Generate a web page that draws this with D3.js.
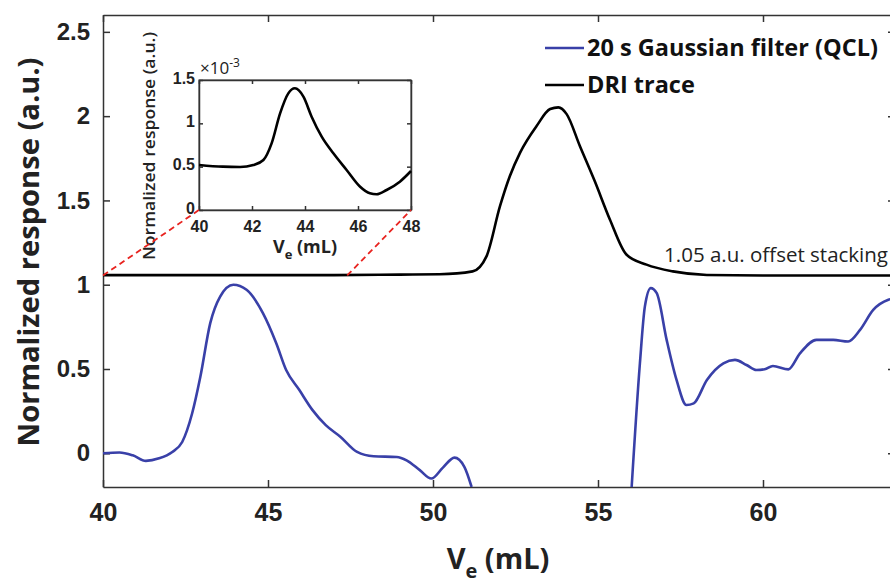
<!DOCTYPE html>
<html lang="en">
<head>
  <meta charset="UTF-8">
  <title>QCL vs DRI trace</title>
  <script src="https://d3js.org/d3.v7.min.js"></script>
  <style>
    body { margin: 0; background: #fff; }
    svg { display: block; font-family: 'Open Sans', 'DejaVu Sans', sans-serif; }
    .axis path, .axis line { stroke: #333; stroke-width: 1.5; }
    .axis text { fill: #222; font-weight: bold; }
    .trace { fill: none; stroke-width: 2.6; stroke-linejoin: round; }
  </style>
</head>
<body>
<svg id="chart" width="890" height="584"></svg>
<script>
  // main plot: blue QCL trace (Ve in mL, normalized response)
  var qclVe = [40, 40.5, 40.9, 41.3, 41.7, 42.1, 42.4, 42.7, 42.95, 43.25, 43.55, 43.95, 44.35, 44.85, 45.25,
    45.55, 45.95, 46.35, 46.75, 47.2, 47.7, 48.2, 48.9, 49.2, 49.6, 49.95, 50.3, 50.65, 50.95, 51.17,
    null,
    56.02, 56.27, 56.42, 56.6, 56.78, 57.08, 57.38, 57.68, 57.9, 58.3, 58.8, 59.15, 59.5, 59.8, 60.05,
    60.3, 60.77, 61.12, 61.62, 62.13, 62.58, 62.94, 63.34, 63.8, 64];
  var qclVal = [0, 0.005, -0.012, -0.045, -0.03, 0.008, 0.067, 0.236, 0.454, 0.772, 0.93, 1.0, 0.97, 0.83, 0.653,
    0.494, 0.375, 0.256, 0.167, 0.097, 0.008, -0.018, -0.022, -0.042, -0.1, -0.15, -0.085, -0.026, -0.08, -0.2,
    null,
    -0.2, 0.534, 0.87, 0.98, 0.95, 0.673, 0.435, 0.286, 0.296, 0.435, 0.534, 0.554, 0.524, 0.494, 0.498,
    0.518, 0.498, 0.593, 0.673, 0.673, 0.663, 0.732, 0.851, 0.911, 0.92];

  // main plot: black DRI trace, stacked with 1.05 offset
  var driVe = [40, 44, 47, 49, 50.2, 51.2, 51.62, 52.03, 52.33, 52.64, 53.14, 53.55, 53.8, 54.05, 54.45,
    54.9, 55.36, 55.86, 56.47, 57.27, 58.3, 60, 62, 64];
  var driVal = [1.057, 1.057, 1.057, 1.06, 1.062, 1.079, 1.168, 1.466, 1.645, 1.784, 1.942, 2.042, 2.052, 2.012, 1.823,
    1.615, 1.387, 1.179, 1.119, 1.079, 1.058, 1.055, 1.055, 1.055];

  // inset: DRI trace zoom, x1e-3
  var insetVe = [40, 40.9, 41.55, 42.05, 42.43, 42.74, 43.06, 43.37, 43.62, 43.94, 44.25, 44.63, 45.07,
    45.57, 46.08, 46.45, 46.7, 47.08, 47.58, 48];
  var insetVal = [0.52, 0.5, 0.496, 0.519, 0.577, 0.769, 1.115, 1.346, 1.404, 1.308, 1.077, 0.846, 0.654,
    0.462, 0.269, 0.192, 0.181, 0.231, 0.327, 0.45];

  var xTicks = [40, 45, 50, 55, 60];
  var yTicks = [0, 0.5, 1, 1.5, 2, 2.5];
  var insetXTicks = [40, 42, 44, 46, 48];
  var insetYTicks = [0, 0.5, 1, 1.5];
  var zoomEnds = [40, 47.4];

  var svg = d3.select("#chart");
  var blue = "#3940a8";
  var fmt = d3.format("~g");

  var x = d3.scaleLinear().domain([40, 64]).range([103, 895]);
  var y = d3.scaleLinear().domain([-0.2, 2.6]).range([487, 15]);

  svg.append("defs").append("clipPath").attr("id", "plotclip")
    .append("rect").attr("x", 103).attr("y", 15).attr("width", 792).attr("height", 472);

  // axes (box style)
  svg.append("g").attr("class", "axis").attr("transform", "translate(0,487)")
    .call(d3.axisBottom(x).tickValues(xTicks).tickSizeInner(-7).tickSizeOuter(0).tickPadding(16))
    .call(function(g) { g.selectAll("text").attr("font-size", 25); });
  svg.append("g").attr("class", "axis").attr("transform", "translate(0,15)")
    .call(d3.axisTop(x).tickValues(xTicks).tickSizeInner(-7).tickSizeOuter(0).tickFormat(""));
  svg.append("g").attr("class", "axis").attr("transform", "translate(103,0)")
    .call(d3.axisLeft(y).tickValues(yTicks).tickFormat(fmt).tickSizeInner(-7).tickSizeOuter(0).tickPadding(13))
    .call(function(g) { g.selectAll("text").attr("font-size", 24); });
  svg.append("g").attr("class", "axis").attr("transform", "translate(895,0)")
    .call(d3.axisRight(y).tickValues(yTicks).tickSizeInner(-7).tickSizeOuter(0).tickFormat(""));

  var plot = svg.append("g").attr("clip-path", "url(#plotclip)");

  var line = d3.line()
    .defined(function(d) { return d[1] !== null; })
    .x(function(d) { return x(d[0]); })
    .y(function(d) { return y(d[1]); })
    .curve(d3.curveMonotoneX);

  plot.append("path").attr("class", "trace")
    .attr("d", line(d3.zip(driVe, driVal))).attr("stroke", "#000");
  plot.append("path").attr("class", "trace")
    .attr("d", line(d3.zip(qclVe, qclVal))).attr("stroke", blue);

  // axis titles
  svg.append("text").attr("transform", "translate(39,252) rotate(-90)")
    .attr("text-anchor", "middle").attr("font-size", 28).attr("font-weight", "bold").attr("fill", "#222")
    .attr("textLength", 389).attr("lengthAdjust", "spacingAndGlyphs")
    .text("Normalized response (a.u.)");
  var xl = svg.append("text").attr("x", 498).attr("y", 569)
    .attr("text-anchor", "middle").attr("font-size", 29).attr("font-weight", "bold").attr("fill", "#222");
  xl.append("tspan").text("V");
  xl.append("tspan").attr("font-size", 20).attr("dy", 9).text("e");
  xl.append("tspan").attr("dy", -9).text(" (mL)");

  // legend
  var legend = [{ label: "20 s Gaussian filter (QCL)", color: blue, yy: 48 },
                { label: "DRI trace", color: "#000", yy: 85 }];
  legend.forEach(function(l) {
    svg.append("line").attr("x1", 545).attr("x2", 584).attr("y1", l.yy).attr("y2", l.yy)
      .attr("stroke", l.color).attr("stroke-width", 2.6);
    svg.append("text").attr("x", 587).attr("y", l.yy + 8).attr("font-size", 23.5).attr("font-weight", "bold")
      .attr("fill", "#111").text(l.label);
  });

  svg.append("text").attr("x", 888).attr("y", 262).attr("text-anchor", "end")
    .attr("font-size", 20.5).attr("fill", "#222").text("1.05 a.u. offset stacking");

  // inset
  var ix = d3.scaleLinear().domain([40, 48]).range([199, 411]);
  var iy = d3.scaleLinear().domain([0, 1.5]).range([210, 80]);

  svg.append("rect").attr("x", 199).attr("y", 80).attr("width", 212).attr("height", 130)
    .attr("fill", "#fff").attr("stroke", "#555").attr("stroke-width", 1.2);

  function insetStyle(g) {
    g.selectAll("text").attr("font-size", 16);
    g.selectAll("path,line").attr("stroke", "#555").attr("stroke-width", 1.2);
  }
  svg.append("g").attr("class", "axis").attr("transform", "translate(0,210)")
    .call(d3.axisBottom(ix).tickValues(insetXTicks).tickSizeInner(-4).tickSizeOuter(0).tickPadding(11))
    .call(insetStyle);
  svg.append("g").attr("class", "axis").attr("transform", "translate(0,80)")
    .call(d3.axisTop(ix).tickValues(insetXTicks).tickSizeInner(-4).tickSizeOuter(0).tickFormat(""))
    .call(insetStyle);
  svg.append("g").attr("class", "axis").attr("transform", "translate(199,0)")
    .call(d3.axisLeft(iy).tickValues(insetYTicks).tickFormat(fmt).tickSizeInner(-4).tickSizeOuter(0).tickPadding(4))
    .call(insetStyle)
    .call(function(g) { g.selectAll("text").attr("dy", "0.2em"); });
  svg.append("g").attr("class", "axis").attr("transform", "translate(411,0)")
    .call(d3.axisRight(iy).tickValues(insetYTicks).tickSizeInner(-4).tickSizeOuter(0).tickFormat(""))
    .call(insetStyle);

  var iline = d3.line().x(function(d) { return ix(d[0]); }).y(function(d) { return iy(d[1]); })
    .curve(d3.curveMonotoneX);
  svg.append("path").attr("class", "trace").attr("stroke", "#000").attr("stroke-width", 2)
    .attr("d", iline(d3.zip(insetVe, insetVal)));

  var sx = svg.append("text").attr("x", 200).attr("y", 74).attr("font-size", 17).attr("fill", "#222");
  sx.append("tspan").text("\u00d710");
  sx.append("tspan").attr("font-size", 12).attr("dy", -7).text("-3");

  svg.append("text").attr("transform", "translate(155,146) rotate(-90)")
    .attr("text-anchor", "middle").attr("font-size", 17).attr("font-weight", "600").attr("fill", "#222")
    .attr("textLength", 228).attr("lengthAdjust", "spacingAndGlyphs")
    .text("Normalized response (a.u.)");
  var ixl = svg.append("text").attr("x", 305).attr("y", 253)
    .attr("text-anchor", "middle").attr("font-size", 18).attr("font-weight", "bold").attr("fill", "#222");
  ixl.append("tspan").text("V");
  ixl.append("tspan").attr("font-size", 13).attr("dy", 6).text("e");
  ixl.append("tspan").attr("dy", -6).text(" (mL)");

  // red dashed zoom connectors
  var corners = [[ix(40), iy(0)], [ix(48), iy(0)]];
  zoomEnds.forEach(function(v, i) {
    svg.append("line").attr("x1", x(v)).attr("y1", y(1.055))
      .attr("x2", corners[i][0]).attr("y2", corners[i][1])
      .attr("stroke", "#e8231f").attr("stroke-width", 1.8).attr("stroke-dasharray", "6,4");
  });
</script>
</body>
</html>
